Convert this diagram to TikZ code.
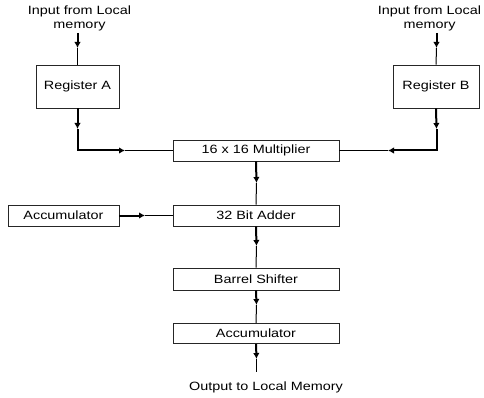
\documentclass[tikz,border=0pt]{standalone}
\usepackage{fontspec}
\setmainfont{Liberation Sans}[FakeStretch=1.2]
\usetikzlibrary{arrows.meta}

\tikzset{
  blk/.style={draw=black!85, line width=0.8pt, inner sep=0pt, font=\fontsize{12}{13}\selectfont},
  lbl/.style={inner sep=0pt, align=center, font=\fontsize{12}{14}\selectfont},
  fat/.style={line width=2pt, black},
  thin/.style={line width=1pt, black},
  arr/.style={-{Latex[length=6pt,width=6.5pt]}}
}

\begin{document}
\begin{tikzpicture}[x=1pt,y=-1pt]
  \useasboundingbox (0,0) rectangle (484,398);
  % boxes
  \node[blk, minimum width=83pt, minimum height=43pt] (regA) at (77.5,86.5) {Register A};
  \node[blk, minimum width=86pt, minimum height=43pt] (regB) at (436,86.5) {Register B};
  \node[blk, minimum width=166pt, minimum height=21pt] (mul) at (256,150.5) {16 x 16 Multiplier};
  \node[blk, minimum width=166pt, minimum height=21pt] (add) at (256,215.5) {32 Bit Adder};
  \node[blk, minimum width=111pt, minimum height=21pt] (accL) at (63.5,215.5) {Accumulator};
  \node[blk, minimum width=166pt, minimum height=22pt] (bsh) at (256,279) {Barrel Shifter};
  \node[blk, minimum width=166pt, minimum height=20pt] (accB) at (256,333.5) {Accumulator};
  % texts
  \node[lbl] (inA) at (79.5,18) {Input from Local\\memory};
  \node[lbl] (inB) at (429.5,18) {Input from Local\\memory};
  \node[lbl] (out) at (266,387) {Output to Local Memory};
  % points on the wires
  \coordinate (topA) at (77.5,33);  \coordinate (mA) at (77.5,48);
  \coordinate (dA) at (77.5,129);   \coordinate (cA) at (77.5,150.5);  \coordinate (hA) at (125,150.5);
  \coordinate (topB) at (436.5,33); \coordinate (mB) at (436.5,48);
  \coordinate (dB) at (436.5,129);  \coordinate (cB) at (436.5,150.5); \coordinate (hB) at (388,150.5);
  \coordinate (hL) at (145,215.5);
  \coordinate (m1) at (256.5,183);  \coordinate (m2) at (256.5,246);
  \coordinate (m3) at (256.5,305);  \coordinate (m4) at (256.5,359);
  \coordinate (endO) at (256.5,372);
  % wires
  \draw[fat,arr] (topA) -- (mA);
  \draw[thin] (mA) -- (regA.north);
  \draw[fat,arr] (regA.south) -- (dA);
  \draw[fat,arr] (dA) -- (cA) -- (hA);
  \draw[thin] (hA) -- (mul.west);
  \draw[fat,arr] (topB) -- (mB);
  \draw[thin] (mB) -- (regB.north);
  \draw[fat,arr] (regB.south) -- (dB);
  \draw[fat,arr] (dB) -- (cB) -- (hB);
  \draw[thin] (hB) -- (mul.east);
  \draw[fat,arr] (accL.east) -- (hL);
  \draw[thin] (hL) -- (add.west);
  \draw[fat,arr] (mul.south) -- (m1);
  \draw[thin] (m1) -- (add.north);
  \draw[fat,arr] (add.south) -- (m2);
  \draw[thin] (m2) -- (bsh.north);
  \draw[fat,arr] (bsh.south) -- (m3);
  \draw[thin] (m3) -- (accB.north);
  \draw[fat,arr] (accB.south) -- (m4);
  \draw[thin] (m4) -- (endO);
\end{tikzpicture}
\end{document}
